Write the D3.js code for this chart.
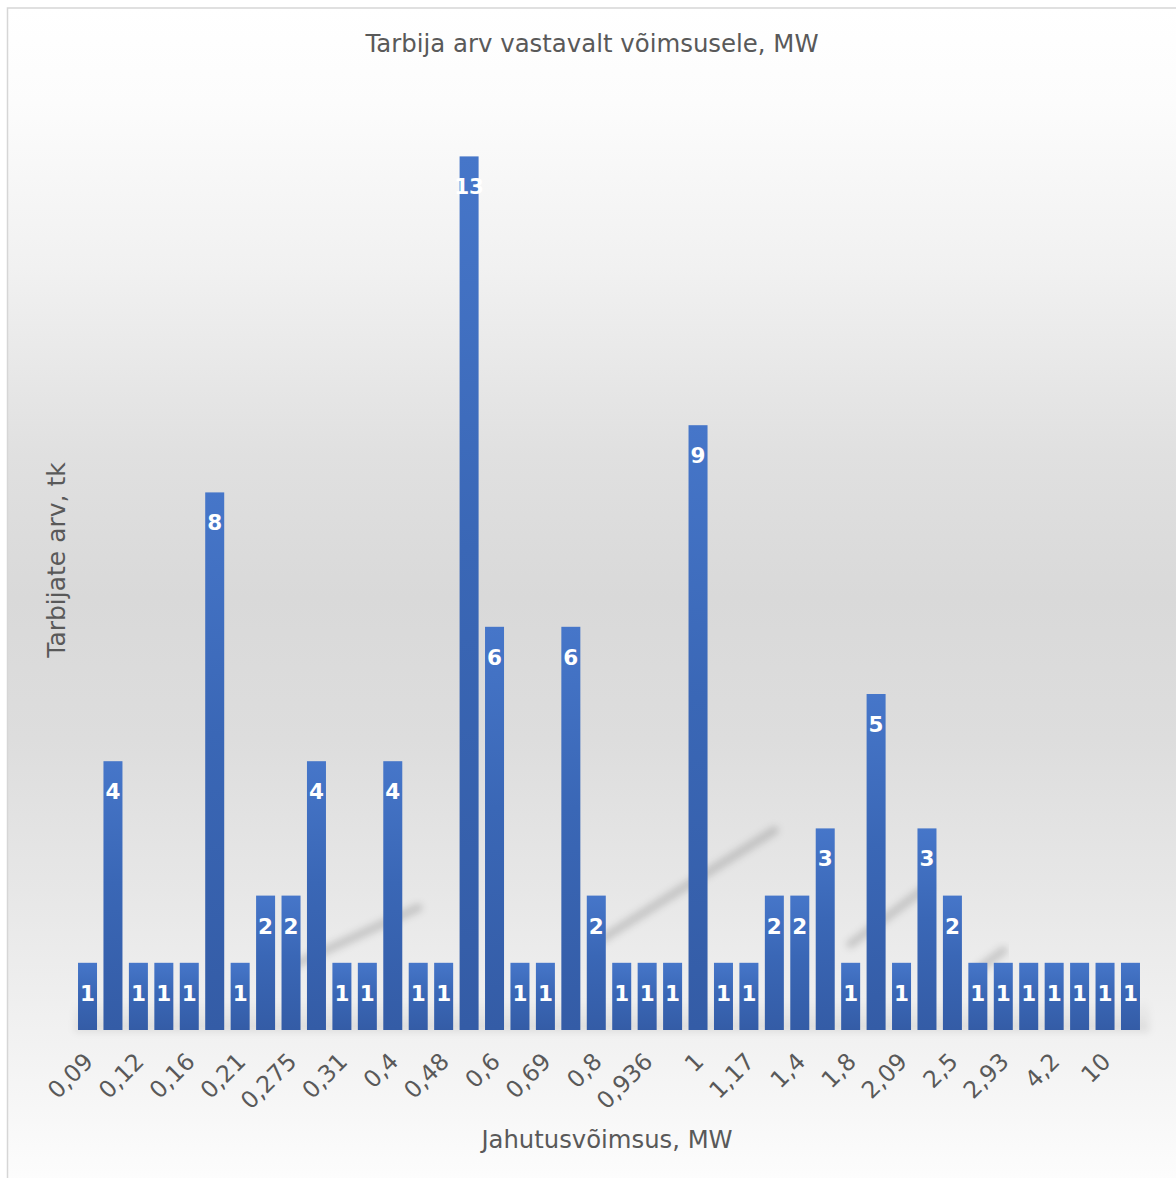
<!DOCTYPE html>
<html>
<head>
<meta charset="utf-8">
<script src="https://cdn.jsdelivr.net/npm/d3@7"></script>
<style>
  html, body { margin: 0; padding: 0; background: #ffffff; }
  svg { display: block; }
  text { font-family: "DejaVu Sans", Verdana, sans-serif; }
</style>
</head>
<body>
<div id="chart"></div>
<script>
// Cooling capacity classes (MW) and number of consumers in each class
const categories = [
  "0,09", "0,1", "0,12", "0,15", "0,16", "0,2", "0,21", "0,25", "0,275", "0,3",
  "0,31", "0,35", "0,4", "0,45", "0,48", "0,5", "0,6", "0,65", "0,69", "0,7",
  "0,8", "0,9", "0,936", "0,95", "1", "1,1", "1,17", "1,2", "1,4", "1,5",
  "1,8", "2", "2,09", "2,2", "2,5", "2,8", "2,93", "3", "4,2", "5",
  "10", "12"
];
const counts = [
  1, 4, 1, 1, 1, 8, 1, 2, 2, 4,
  1, 1, 4, 1, 1, 13, 6, 1, 1, 6,
  2, 1, 1, 1, 9, 1, 1, 2, 2, 3,
  1, 5, 1, 3, 2, 1, 1, 1, 1, 1,
  1, 1
];
// Every second category gets a visible tick label
const shownTickLabels = categories.filter((c, i) => i % 2 === 0);

const chartTitle = "Tarbija arv vastavalt võimsusele, MW";
const xTitle = "Jahutusvõimsus, MW";
const yTitle = "Tarbijate arv, tk";

const W = 1176, H = 1178;
const textColor = "#595959";

const svg = d3.select("#chart").append("svg")
  .attr("width", W).attr("height", H);

const defs = svg.append("defs");

// Soft vertical background: white at the top, grey in the middle, light at the bottom
const bg = defs.append("linearGradient")
  .attr("id", "bgGrad").attr("x1", 0).attr("y1", 0).attr("x2", 0).attr("y2", 1);
[[0, "#ffffff"], [0.08, "#fcfcfc"], [0.22, "#f1f1f1"], [0.38, "#e0e0e0"],
 [0.5, "#d9d9d9"], [0.62, "#dddddd"], [0.75, "#e7e7e7"], [0.88, "#f2f2f2"], [1, "#fdfdfd"]]
  .forEach(([o, c]) => bg.append("stop").attr("offset", o).attr("stop-color", c));

// Bar fill: lighter blue at the top, deeper blue below
const barGrad = defs.append("linearGradient")
  .attr("id", "barGrad").attr("x1", 0).attr("y1", 0).attr("x2", 0).attr("y2", 1);
[[0, "#4676c9"], [0.45, "#3a67b6"], [1, "#345ca6"]]
  .forEach(([o, c]) => barGrad.append("stop").attr("offset", o).attr("stop-color", c));

const blur = defs.append("filter").attr("id", "soft")
  .attr("x", "-20%").attr("y", "-50%").attr("width", "140%").attr("height", "200%");
blur.append("feGaussianBlur").attr("stdDeviation", 3.5);

const floorGrad = defs.append("linearGradient")
  .attr("id", "floorGrad").attr("x1", 0).attr("y1", 0).attr("x2", 0).attr("y2", 1);
floorGrad.append("stop").attr("offset", 0).attr("stop-color", "#000").attr("stop-opacity", 0);
floorGrad.append("stop").attr("offset", 1).attr("stop-color", "#000").attr("stop-opacity", 0.09);

// Chart frame with gradient fill
svg.append("rect")
  .attr("x", 7.5).attr("y", 8).attr("width", W).attr("height", H)
  .attr("fill", "url(#bgGrad)")
  .attr("stroke", "#d6d6d6").attr("stroke-width", 1.5);

// Scales
const x = d3.scaleBand()
  .domain(categories)
  .range([74.8, 1143.2])
  .paddingInner(0.253)
  .paddingOuter(0.1266);

const y = d3.scaleLinear()
  .domain([0, 14])
  .range([1030, 1030 - 14 * 67.2]);

const plot = svg.append("g");

// Soft floor shading under the bars
plot.append("rect")
  .attr("x", x.range()[0]).attr("y", y(0.45))
  .attr("width", x.range()[1] - x.range()[0] + 6).attr("height", y(0) - y(0.45) + 2)
  .attr("fill", "url(#floorGrad)")
  .attr("filter", "url(#soft)");

// Faint diagonal glare streaks on the backdrop
const streaks = [
  { from: [categories[8], 0.95], to: [categories[13], 1.82] },
  { from: [categories[20], 1.3], to: [categories[27], 2.97] },
  { from: [categories[30], 1.28], to: [categories[33], 2.13] },
  { from: [categories[35], 0.9], to: [categories[36], 1.18] }
];
plot.append("g").selectAll("line").data(streaks).join("line")
  .attr("x1", d => x(d.from[0]) + x.bandwidth() / 2)
  .attr("y1", d => y(d.from[1]))
  .attr("x2", d => x(d.to[0]) + x.bandwidth() / 2)
  .attr("y2", d => y(d.to[1]))
  .attr("stroke", "rgba(0,0,0,0.15)")
  .attr("stroke-width", 9)
  .attr("stroke-linecap", "round")
  .attr("filter", "url(#soft)");

// Bars
plot.append("g").selectAll("rect").data(counts).join("rect")
  .attr("x", (d, i) => x(categories[i]))
  .attr("y", d => y(d))
  .attr("width", x.bandwidth())
  .attr("height", d => y(0) - y(d))
  .attr("fill", "url(#barGrad)");

// Value labels inside the top of each bar
plot.append("g").selectAll("text").data(counts).join("text")
  .attr("x", (d, i) => x(categories[i]) + x.bandwidth() / 2)
  .attr("y", d => y(d) + 38)
  .attr("text-anchor", "middle")
  .attr("fill", "#ffffff")
  .attr("font-weight", "bold")
  .attr("font-size", 21.5)
  .text(d => d);

// Category axis with rotated labels
const xAxis = d3.axisBottom(x)
  .tickSize(0)
  .tickSizeOuter(0)
  .tickFormat(c => shownTickLabels.includes(c) && categories.indexOf(c) % 2 === 0 ? c : "");

const gx = svg.append("g")
  .attr("transform", `translate(0,${y(0)})`)
  .call(xAxis);
gx.select(".domain").remove();
gx.selectAll(".tick text")
  .attr("font-family", "DejaVu Sans, Verdana, sans-serif")
  .attr("font-size", 23.5)
  .attr("fill", textColor)
  .attr("text-anchor", "end")
  .attr("y", 0).attr("dy", 0)
  .attr("transform", "translate(7,33) rotate(-45)");

// Titles
svg.append("text")
  .attr("x", 592).attr("y", 52)
  .attr("text-anchor", "middle")
  .attr("font-size", 24.4)
  .attr("fill", textColor)
  .text(chartTitle);

svg.append("text")
  .attr("x", 607).attr("y", 1148)
  .attr("text-anchor", "middle")
  .attr("font-size", 24.3)
  .attr("fill", textColor)
  .text(xTitle);

svg.append("text")
  .attr("transform", "translate(65,560) rotate(-90)")
  .attr("text-anchor", "middle")
  .attr("font-size", 25)
  .attr("fill", textColor)
  .text(yTitle);
</script>
</body>
</html>
